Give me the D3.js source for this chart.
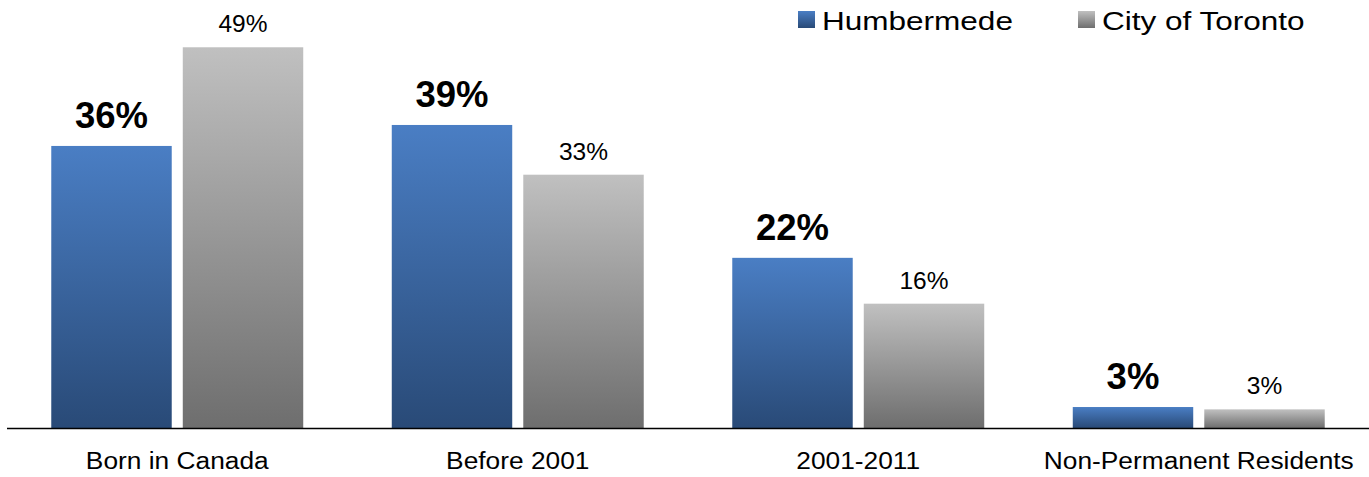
<!DOCTYPE html>
<html><head><meta charset="utf-8">
<script src="https://cdn.jsdelivr.net/npm/d3@7"></script>
<style>body{margin:0;background:#fff}svg{display:block}text{font-family:"Liberation Sans",Arial,sans-serif}</style>
</head><body><svg id="c" width="1369" height="477"></svg>
<script>
const categories = ["Born in Canada", "Before 2001", "2001-2011", "Non-Permanent Residents"];
const seriesNames = ["Humbermede", "City of Toronto"];
const humbermede = [36.3, 39.0, 21.9, 2.7];
const toronto = [49.0, 32.6, 16.0, 2.4];
const humbermedeLabels = ["36%", "39%", "22%", "3%"];
const torontoLabels = ["49%", "33%", "16%", "3%"];

const svg = d3.select("#c");
const W = 1369, H = 477, base = 428;
const defs = svg.append("defs");
function grad(id, top, bottom){
  const g = defs.append("linearGradient").attr("id", id).attr("x1",0).attr("y1",0).attr("x2",0).attr("y2",1);
  g.append("stop").attr("offset","0%").attr("stop-color",top);
  g.append("stop").attr("offset","100%").attr("stop-color",bottom);
}
grad("gBlue", "#4a7ec4", "#294a77");
grad("gGray", "#c0c0c0", "#6e6e6e");

const x0 = d3.scaleBand().domain(categories).range([7, W]).paddingInner(0.26).paddingOuter(0.13);
const x1 = d3.scaleBand().domain(seriesNames).range([0, x0.bandwidth()]).paddingInner(0.084);
const y = d3.scaleLinear().domain([0, 50]).range([base, base - 50*7.77]);

const series = [
  {name: seriesNames[0], values: humbermede, labels: humbermedeLabels, fill: "url(#gBlue)", bold: true},
  {name: seriesNames[1], values: toronto, labels: torontoLabels, fill: "url(#gGray)", bold: false}
];

series.forEach(s => {
  const g = svg.append("g");
  g.selectAll("rect").data(categories).join("rect")
    .attr("x", c => x0(c) + x1(s.name))
    .attr("width", x1.bandwidth())
    .attr("y", (c,i) => y(s.values[i]))
    .attr("height", (c,i) => base - y(s.values[i]))
    .attr("fill", s.fill);
  g.selectAll("text").data(categories).join("text")
    .attr("x", c => x0(c) + x1(s.name) + x1.bandwidth()/2)
    .attr("y", (c,i) => y(s.values[i]) - (s.bold ? 18 : 15))
    .attr("text-anchor", "middle")
    .attr("font-size", s.bold ? 36.5 : 24.5)
    .attr("font-weight", s.bold ? "bold" : "normal")
    .attr("fill", "#000")
    .text((c,i) => s.labels[i]);
});

// axis
const axis = d3.axisBottom(x0).tickSize(0).tickPadding(0);
const ag = svg.append("g").attr("transform", `translate(0,${base})`).call(axis);
ag.select(".domain").attr("d", `M7,0.5H${W}`).attr("stroke", "#000").attr("stroke-width", 1.6);
ag.selectAll(".tick text").attr("y", 0).attr("dy", 0)
  .attr("transform", "translate(0,40.5) scale(1.12,1)")
  .attr("font-size", 23.5).attr("font-family", "Liberation Sans, Arial, sans-serif").attr("fill", "#000");

// legend
const legend = [{name: seriesNames[0], fill: "url(#gBlue)", x: 798}, {name: seriesNames[1], fill: "url(#gGray)", x: 1078}];
const lg = svg.append("g");
legend.forEach(l => {
  lg.append("rect").attr("x", l.x).attr("y", 11).attr("width", 17).attr("height", 17).attr("fill", l.fill);
  lg.append("text").attr("transform", `translate(${l.x + 24},30) scale(1.19,1)`).attr("font-size", 26.5).attr("fill", "#000").text(l.name);
});
</script></body></html>
